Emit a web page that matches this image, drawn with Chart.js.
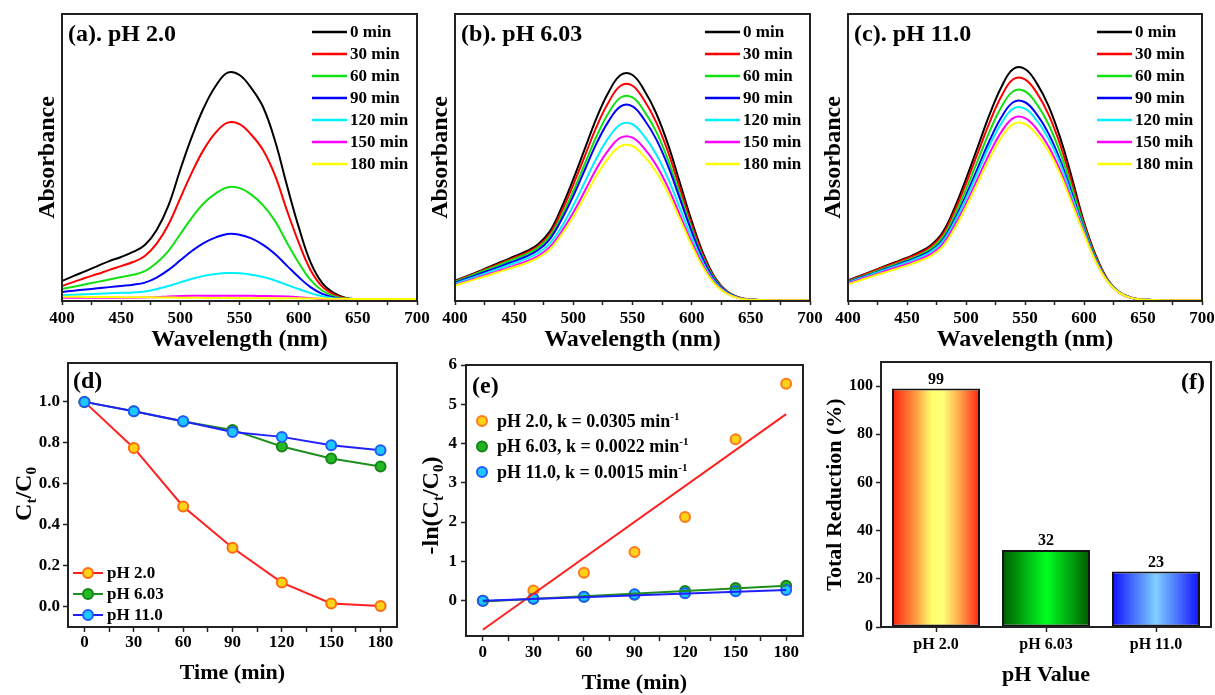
<!DOCTYPE html>
<html><head><meta charset="utf-8">
<script src="https://cdn.jsdelivr.net/npm/chart.js@4.4.0/dist/chart.umd.min.js"></script>
<style>
html,body{margin:0;padding:0;background:#fff;overflow:hidden}
#wrap{position:relative;width:1215px;height:695px;background:#fff;overflow:hidden}
canvas{position:absolute}
</style></head><body><div id="wrap">
<canvas id="ca" width="440" height="356" style="left:0;top:0"></canvas>
<canvas id="cb" width="410" height="356" style="left:420px;top:0"></canvas>
<canvas id="cc" width="400" height="356" style="left:815px;top:0"></canvas>
<canvas id="cd" width="420" height="345" style="left:0;top:350px"></canvas>
<canvas id="ce" width="400" height="345" style="left:415px;top:350px"></canvas>
<canvas id="cf" width="400" height="345" style="left:815px;top:350px"></canvas>
</div>
<script>
// ---------------- DATA ----------------
const wavelengths = [400,410,420,430,440,450,460,470,480,490,500,510,520,530,540,550,560,570,580,590,600,610,620,630,640,650,670,700];
const timeLabelsA = ['0 min','30 min','60 min','90 min','120 min','150 min','180 min'];
const timeLabelsB = ['0 min','30 min','60 min','90 min','120 min','150 min','180 min'];
const timeLabelsC = ['0 min','30 min','60 min','90 min','120 min','150 mih','180 min'];

// (a) pH 2.0
const absA0   = [0.084,0.105,0.125,0.146,0.167,0.184,0.205,0.234,0.297,0.40,0.55,0.69,0.81,0.90,0.955,0.945,0.89,0.81,0.67,0.485,0.31,0.163,0.075,0.033,0.013,0.007,0.005,0.004];
const absA30  = [0.063,0.08,0.097,0.113,0.13,0.146,0.163,0.188,0.24,0.32,0.43,0.54,0.635,0.705,0.746,0.74,0.695,0.63,0.525,0.38,0.245,0.13,0.06,0.027,0.011,0.006,0.005,0.004];
const absA60  = [0.05,0.06,0.07,0.08,0.09,0.10,0.11,0.125,0.16,0.21,0.28,0.35,0.41,0.45,0.476,0.472,0.445,0.40,0.335,0.245,0.16,0.088,0.043,0.02,0.009,0.006,0.005,0.004];
const absA90  = [0.038,0.043,0.048,0.053,0.058,0.063,0.068,0.077,0.098,0.13,0.17,0.21,0.243,0.266,0.28,0.277,0.262,0.235,0.197,0.148,0.10,0.058,0.03,0.015,0.008,0.006,0.005,0.004];
const absA120 = [0.024,0.026,0.028,0.03,0.032,0.034,0.036,0.04,0.05,0.063,0.078,0.093,0.105,0.113,0.117,0.116,0.11,0.10,0.086,0.068,0.05,0.033,0.02,0.011,0.007,0.005,0.004,0.004];
const absA150 = [0.014,0.014,0.014,0.014,0.014,0.014,0.014,0.015,0.016,0.019,0.021,0.022,0.022,0.022,0.022,0.022,0.022,0.021,0.02,0.019,0.016,0.011,0.008,0.006,0.005,0.005,0.004,0.004];
const absA180 = [0.018,0.018,0.017,0.017,0.017,0.016,0.016,0.016,0.015,0.015,0.014,0.014,0.013,0.013,0.013,0.012,0.012,0.012,0.011,0.011,0.011,0.01,0.01,0.009,0.009,0.008,0.008,0.008];

// (b) pH 6.03
const absB0   = [0.084,0.104,0.124,0.145,0.165,0.186,0.207,0.236,0.29,0.39,0.51,0.64,0.77,0.875,0.945,0.945,0.88,0.785,0.655,0.495,0.335,0.195,0.095,0.04,0.015,0.006,0.003,0.003];
const absB30  = [0.082,0.102,0.121,0.141,0.161,0.181,0.201,0.229,0.28,0.373,0.487,0.61,0.733,0.833,0.90,0.90,0.838,0.748,0.624,0.472,0.32,0.187,0.091,0.038,0.014,0.006,0.003,0.003];
const absB60  = [0.080,0.099,0.118,0.137,0.156,0.176,0.195,0.222,0.27,0.355,0.46,0.577,0.693,0.788,0.851,0.851,0.793,0.708,0.59,0.447,0.303,0.177,0.087,0.036,0.014,0.006,0.003,0.003];
const absB90  = [0.076,0.094,0.112,0.13,0.148,0.167,0.186,0.212,0.258,0.34,0.44,0.552,0.663,0.753,0.814,0.814,0.758,0.677,0.565,0.428,0.29,0.17,0.083,0.035,0.013,0.005,0.003,0.003];
const absB120 = [0.072,0.089,0.106,0.123,0.14,0.158,0.176,0.2,0.24,0.31,0.40,0.50,0.601,0.684,0.739,0.739,0.688,0.614,0.513,0.389,0.264,0.155,0.077,0.033,0.012,0.005,0.003,0.003];
const absB150 = [0.067,0.083,0.099,0.115,0.131,0.148,0.165,0.188,0.225,0.29,0.37,0.463,0.557,0.633,0.683,0.683,0.637,0.569,0.475,0.36,0.245,0.144,0.071,0.031,0.012,0.005,0.003,0.003];
const absB180 = [0.064,0.08,0.095,0.11,0.126,0.142,0.158,0.18,0.215,0.277,0.352,0.44,0.528,0.60,0.648,0.648,0.604,0.54,0.451,0.343,0.233,0.137,0.068,0.03,0.011,0.005,0.003,0.003];

// (c) pH 11.0
const absC0   = [0.086,0.105,0.124,0.143,0.162,0.181,0.203,0.232,0.285,0.385,0.51,0.645,0.78,0.895,0.97,0.97,0.91,0.815,0.68,0.51,0.33,0.19,0.09,0.037,0.014,0.006,0.003,0.003];
const absC30  = [0.085,0.103,0.122,0.141,0.159,0.178,0.199,0.227,0.277,0.372,0.49,0.619,0.747,0.856,0.927,0.927,0.87,0.779,0.651,0.49,0.322,0.185,0.088,0.036,0.014,0.006,0.003,0.003];
const absC60  = [0.081,0.099,0.117,0.135,0.153,0.171,0.191,0.218,0.265,0.355,0.466,0.588,0.709,0.811,0.877,0.877,0.823,0.738,0.618,0.467,0.312,0.179,0.086,0.036,0.014,0.006,0.003,0.003];
const absC90  = [0.078,0.096,0.113,0.131,0.148,0.166,0.185,0.21,0.254,0.338,0.442,0.557,0.671,0.768,0.831,0.831,0.78,0.70,0.587,0.445,0.301,0.173,0.084,0.035,0.013,0.006,0.003,0.003];
const absC120 = [0.076,0.094,0.111,0.128,0.145,0.162,0.181,0.205,0.247,0.328,0.428,0.539,0.65,0.743,0.804,0.804,0.755,0.678,0.57,0.433,0.295,0.17,0.083,0.035,0.013,0.006,0.003,0.003];
const absC150 = [0.073,0.09,0.106,0.123,0.139,0.155,0.173,0.196,0.236,0.313,0.407,0.513,0.618,0.707,0.765,0.765,0.719,0.646,0.544,0.415,0.286,0.166,0.082,0.034,0.013,0.006,0.003,0.003];
const absC180 = [0.070,0.086,0.102,0.117,0.133,0.148,0.166,0.188,0.226,0.30,0.393,0.495,0.597,0.684,0.74,0.74,0.696,0.626,0.528,0.404,0.28,0.163,0.081,0.034,0.013,0.006,0.003,0.003];

// (d) Ct/C0
const times   = [0,30,60,90,120,150,180];
const ctPH2   = [1.0,0.775,0.489,0.287,0.117,0.015,0.003];
const ctPH6   = [1.0,0.954,0.904,0.863,0.782,0.723,0.684];
const ctPH11  = [1.0,0.954,0.905,0.853,0.829,0.788,0.764];
const phLegend = ['pH 2.0','pH 6.03','pH 11.0'];

// (e) -ln(Ct/C0)
const lnPH2   = [0,0.26,0.71,1.24,2.13,4.11,5.52];
const lnPH6   = [0,0.05,0.10,0.15,0.245,0.32,0.38];
const lnPH11  = [0,0.047,0.10,0.16,0.19,0.24,0.27];
const fitTimes = [0,180];
const fitPH2  = [-0.74,4.75];
const fitPH6  = [-0.02,0.38];
const fitPH11 = [0.0,0.27];
const kLabels = ['pH 2.0, k = 0.0305 min','pH 6.03, k = 0.0022 min','pH 11.0, k = 0.0015 min'];

// (f) total reduction
const phCategories   = ['pH 2.0','pH 6.03','pH 11.0'];
const totalReduction = [99,32,23];

// ticks
const specTicks = [400,425,450,475,500,525,550,575,600,625,650,675,700];
const timeTicks = [0,15,30,45,60,75,90,105,120,135,150,165,180];
const ctTicks   = [0,0.2,0.4,0.6,0.8,1.0];
const lnTicks   = [0,1,2,3,4,5,6];
const redTicks  = [0,20,40,60,80,100];

// ---------------- HELPERS ----------------
const FONT = "'Liberation Serif','Times New Roman',serif";
const fnt = (size) => ({family:FONT, size:size, weight:'bold', lineHeight:1});

function drawRich(ctx, segs, x, y, size, rot, align){
  ctx.save();
  ctx.translate(x, y);
  if (rot) ctx.rotate(-Math.PI/2);
  const small = Math.round(size*0.62);
  const fo = s => 'bold ' + ((s.sub||s.sup) ? small : size) + 'px ' + FONT;
  let w = 0;
  segs.forEach(s => { ctx.font = fo(s); w += ctx.measureText(s.t).width; });
  let cx = align === 'left' ? 0 : -w/2;
  ctx.fillStyle = '#000'; ctx.textBaseline = 'alphabetic'; ctx.textAlign = 'left';
  const base = size*0.33;
  segs.forEach(s => {
    ctx.font = fo(s);
    const dy = s.sub ? size*0.2 : (s.sup ? -size*0.4 : 0);
    ctx.fillText(s.t, cx, base + dy);
    cx += ctx.measureText(s.t).width;
  });
  ctx.restore();
}

const framePlugin = {
  id:'frame',
  afterDraw(chart){
    const {ctx, chartArea:a} = chart;
    ctx.save(); ctx.strokeStyle = '#222'; ctx.lineWidth = 2;
    ctx.strokeRect(a.left, a.top, a.right - a.left, a.bottom - a.top);
    ctx.restore();
  }
};

function xLinear(o){
  const ticks = {autoSkip:false, maxRotation:0, minRotation:0, font:fnt(o.fs||17), color:'#000', padding:o.pad};
  if (o.cb) ticks.callback = o.cb;
  return {
    type:'linear', min:o.min, max:o.max,
    afterBuildTicks: s => { s.ticks = o.ticks.map(v => ({value:v})); },
    afterFit: s => { s.height = o.h; s.paddingLeft = 0; s.paddingRight = 0; },
    ticks: ticks,
    grid:{display:true, drawOnChartArea:false, drawTicks:true, tickLength:o.tl||5, tickColor:'#222', tickWidth:1.5},
    border:{display:false},
    title:{display:true, text:o.title, font:fnt(o.tfs), color:'#000', padding:{top:0, bottom:o.tpb}}
  };
}

function yLinear(o){
  const ax = {
    type:'linear', min:o.min, max:o.max,
    afterFit: s => { s.width = o.w; s.paddingTop = 0; s.paddingBottom = 0; },
    border:{display:false}
  };
  if (o.ticks) {
    ax.afterBuildTicks = s => { s.ticks = o.ticks.map(v => ({value:v})); };
    ax.ticks = {font:fnt(o.fs||17), color:'#000', padding:o.pad, autoSkip:false};
    if (o.cb) ax.ticks.callback = o.cb;
    ax.grid = {display:true, drawOnChartArea:false, drawTicks:true, tickLength:5, tickColor:'#222', tickWidth:1.5};
  } else {
    ax.ticks = {display:false};
    ax.grid = {display:false, drawTicks:false};
  }
  if (o.title) ax.title = {display:true, text:o.title, font:fnt(o.tfs), color:'#000', padding:{top:o.tpt, bottom:0}};
  return ax;
}

const baseOpts = {responsive:false, animation:false, events:[], devicePixelRatio:1};

// ---------------- SPECTRA (a)(b)(c) ----------------
const specColors = ['#000000','#ff0000','#11e011','#0000ff','#00f0ff','#ff00ff','#ffff00'];

function spectra(id, series, labels, tag, L){
  const deco = {
    id:'deco'+id,
    afterDraw(chart){
      const ctx = chart.ctx, a = chart.chartArea;
      ctx.save();
      ctx.font = 'bold 17px ' + FONT; ctx.textBaseline = 'middle'; ctx.textAlign = 'left';
      chart.data.datasets.forEach((ds, i) => {
        const y = a.top + 18 + 22*i;
        ctx.strokeStyle = ds.borderColor; ctx.lineWidth = 2.5;
        ctx.beginPath(); ctx.moveTo(a.right - 105, y); ctx.lineTo(a.right - 70, y); ctx.stroke();
        ctx.fillStyle = '#000'; ctx.fillText(ds.label, a.right - 67, y + 1);
      });
      ctx.font = 'bold 24px ' + FONT;
      ctx.fillText(tag, a.left + 6, a.top + 21);
      ctx.restore();
    }
  };
  return new Chart(document.getElementById(id), {
    type:'line',
    data:{datasets: series.map((s, i) => ({
      label: labels[i],
      data: wavelengths.map((w, j) => ({x:w, y:s[j]})),
      borderColor: specColors[i], backgroundColor: specColors[i],
      borderWidth: 2, pointRadius: 0, tension: 0.4, order: 6 - i
    }))},
    options: Object.assign({}, baseOpts, {
      layout:{padding:{left:0, top:14, right:L.pr, bottom:0}},
      plugins:{legend:{display:false}, tooltip:{enabled:false}},
      scales:{
        x: xLinear({min:400, max:700, ticks:specTicks, cb: v => (v % 50 === 0 ? String(v) : ''), h:55, pad:5, tl:4, title:'Wavelength (nm)', tfs:24, tpb:4}),
        y: yLinear({min:0, max:1.2, w:L.yw, title:'Absorbance', tfs:24, tpt:L.tpt})
      }
    }),
    plugins:[framePlugin, deco]
  });
}

spectra('ca', [absA0,absA30,absA60,absA90,absA120,absA150,absA180], timeLabelsA, '(a). pH 2.0', {pr:23, yw:62, tpt:36});
spectra('cb', [absB0,absB30,absB60,absB90,absB120,absB150,absB180], timeLabelsB, '(b). pH 6.03', {pr:20, yw:35, tpt:9});
spectra('cc', [absC0,absC30,absC60,absC90,absC120,absC150,absC180], timeLabelsC, '(c). pH 11.0', {pr:13, yw:33, tpt:6.5});

// ---------------- (d) ----------------
const dStyles = [
  {line:'#ff2020', fill:'#ffd21a', edge:'#ff6a10'},
  {line:'#1e8f1e', fill:'#22bb22', edge:'#178417'},
  {line:'#2020ff', fill:'#1ec8ff', edge:'#1f5cff'}
];
const dSeries = [ctPH2, ctPH6, ctPH11];
new Chart(document.getElementById('cd'), {
  type:'line',
  data:{datasets: dSeries.map((s, i) => ({
    label: phLegend[i],
    data: times.map((t, j) => ({x:t, y:s[j]})),
    borderColor: dStyles[i].line, backgroundColor: dStyles[i].fill,
    pointBackgroundColor: dStyles[i].fill, pointBorderColor: dStyles[i].edge,
    pointRadius: 5, pointBorderWidth: 2, borderWidth: 2, order: 2 - i
  }))},
  options: Object.assign({}, baseOpts, {
    layout:{padding:{left:0, top:13, right:23, bottom:0}},
    plugins:{legend:{display:false}, tooltip:{enabled:false}},
    scales:{
      x: xLinear({min:-10, max:190, ticks:timeTicks, cb: v => (v % 30 === 0 ? String(v) : ''), h:68, pad:2.5, title:'Time (min)', tfs:22, tpb:11}),
      y: yLinear({min:-0.1, max:1.19, w:68, ticks:ctTicks, cb: v => Number(v).toFixed(1), pad:3})
    }
  }),
  plugins:[framePlugin, {
    id:'decoD',
    afterDraw(chart){
      const ctx = chart.ctx, a = chart.chartArea;
      ctx.save();
      chart.data.datasets.forEach((ds, i) => {
        const y = a.top + 210 + 21*i;
        ctx.strokeStyle = ds.borderColor; ctx.lineWidth = 2;
        ctx.beginPath(); ctx.moveTo(a.left + 5, y); ctx.lineTo(a.left + 35, y); ctx.stroke();
        ctx.beginPath(); ctx.arc(a.left + 20, y, 5, 0, Math.PI*2);
        ctx.fillStyle = ds.pointBackgroundColor; ctx.fill();
        ctx.lineWidth = 2; ctx.strokeStyle = ds.pointBorderColor; ctx.stroke();
        ctx.fillStyle = '#000'; ctx.font = 'bold 17px ' + FONT; ctx.textBaseline = 'middle'; ctx.textAlign = 'left';
        ctx.fillText(ds.label, a.left + 39, y + 1);
      });
      ctx.font = 'bold 24px ' + FONT; ctx.textBaseline = 'middle'; ctx.fillStyle = '#000';
      ctx.fillText('(d)', a.left + 5, a.top + 19);
      ctx.restore();
      drawRich(ctx, [{t:'C'},{t:'t',sub:true},{t:'/C'},{t:'0',sub:true}], a.left - 45, (a.top + a.bottom)/2 - 1, 24, true, 'center');
    }
  }]
});

// ---------------- (e) ----------------
const eSeries = [lnPH2, lnPH6, lnPH11];
const fitSeries = [fitPH2, fitPH6, fitPH11];
const eStyles = [
  {line:'#ff2020', fill:'#ffd21a', edge:'#ff7a1a'},
  {line:'#1e8f1e', fill:'#22b522', edge:'#178417'},
  {line:'#2020ff', fill:'#1ec8ff', edge:'#1f5cff'}
];
const eDatasets = [];
eSeries.forEach((s, i) => eDatasets.push({
  label: kLabels[i], showLine:false,
  data: times.map((t, j) => ({x:t, y:s[j]})),
  borderColor: eStyles[i].edge, backgroundColor: eStyles[i].fill,
  pointBackgroundColor: eStyles[i].fill, pointBorderColor: eStyles[i].edge,
  pointRadius: 5, pointBorderWidth: 2, order: 5 - i
}));
fitSeries.forEach((s, i) => eDatasets.push({
  label: 'fit ' + phLegend[i], showLine:true,
  data: fitTimes.map((t, j) => ({x:t, y:s[j]})),
  borderColor: eStyles[i].line, backgroundColor: eStyles[i].line,
  pointRadius: 0, borderWidth: 2, order: 2 - i
}));
new Chart(document.getElementById('ce'), {
  type:'scatter',
  data:{datasets: eDatasets},
  options: Object.assign({}, baseOpts, {
    layout:{padding:{left:0, top:15, right:12, bottom:0}},
    plugins:{legend:{display:false}, tooltip:{enabled:false}},
    scales:{
      x: xLinear({min:-10, max:190, ticks:timeTicks, cb: v => (v % 30 === 0 ? String(v) : ''), h:59, pad:3.5, title:'Time (min)', tfs:22, tpb:1}),
      y: yLinear({min:-0.9, max:6, w:51, ticks:lnTicks, cb: v => String(v), pad:4})
    }
  }),
  plugins:[framePlugin, {
    id:'decoE',
    afterDraw(chart){
      const ctx = chart.ctx, a = chart.chartArea;
      for (let i = 0; i < 3; i++) {
        const ds = chart.data.datasets[i];
        const y = a.top + 56 + 25.5*i;
        ctx.save();
        ctx.beginPath(); ctx.arc(a.left + 16, y, 5, 0, Math.PI*2);
        ctx.fillStyle = ds.pointBackgroundColor; ctx.fill();
        ctx.lineWidth = 2; ctx.strokeStyle = ds.pointBorderColor; ctx.stroke();
        ctx.restore();
        drawRich(ctx, [{t:ds.label},{t:'-1',sup:true}], a.left + 31, y, 18, false, 'left');
      }
      ctx.save();
      ctx.font = 'bold 24px ' + FONT; ctx.textBaseline = 'middle'; ctx.fillStyle = '#000'; ctx.textAlign = 'left';
      ctx.fillText('(e)', a.left + 6, a.top + 22);
      ctx.restore();
      drawRich(ctx, [{t:'-ln(C'},{t:'t',sub:true},{t:'/C'},{t:'0',sub:true},{t:')'}], a.left - 36, (a.top + a.bottom)/2 + 5, 24, true, 'center');
    }
  }]
});

// ---------------- (f) ----------------
const barStops = [
  [[0,'#ff2010'],[0.28,'#ffa040'],[0.45,'#ffff70'],[0.58,'#ffff78'],[0.75,'#ffb050'],[1,'#ff2010']],
  [[0,'#005a00'],[0.5,'#00ff22'],[1,'#005a00']],
  [[0,'#1010ff'],[0.5,'#80d0ff'],[1,'#1010ff']]
];
function barFill(c){
  const chart = c.chart;
  const xs = chart.scales.x;
  if (!chart.chartArea || !xs || c.dataIndex === undefined) return '#ff8040';
  const cx = xs.getPixelForValue(c.dataIndex);
  const half = xs.width / phCategories.length * 0.8 / 2;
  const g = chart.ctx.createLinearGradient(cx - half, 0, cx + half, 0);
  barStops[c.dataIndex].forEach(s => g.addColorStop(s[0], s[1]));
  return g;
}
new Chart(document.getElementById('cf'), {
  type:'bar',
  data:{labels: phCategories, datasets:[{
    label:'Total Reduction', data: totalReduction,
    backgroundColor: barFill, borderColor:'#151515', borderWidth:2, borderSkipped:false,
    barPercentage:0.8, categoryPercentage:1.0
  }]},
  options: Object.assign({}, baseOpts, {
    layout:{padding:{left:0, top:12, right:4, bottom:0}},
    plugins:{legend:{display:false}, tooltip:{enabled:false}},
    scales:{
      x:{
        type:'category',
        afterFit: s => { s.height = 68; s.paddingLeft = 0; s.paddingRight = 0; },
        ticks:{font:fnt(16), color:'#000', padding:5, maxRotation:0, autoSkip:false},
        grid:{display:true, offset:false, drawOnChartArea:false, drawTicks:true, tickLength:5, tickColor:'#222', tickWidth:1.5},
        border:{display:false},
        title:{display:true, text:'pH Value', font:fnt(22), color:'#000', padding:{top:0, bottom:9}}
      },
      y: yLinear({min:0, max:110, w:66, ticks:redTicks, cb: v => String(v), pad:3, fs:16, title:'Total Reduction (%)', tfs:22, tpt:9})
    }
  }),
  plugins:[framePlugin, {
    id:'decoF',
    afterDraw(chart){
      const ctx = chart.ctx, a = chart.chartArea;
      const meta = chart.getDatasetMeta(0);
      ctx.save();
      ctx.font = 'bold 16px ' + FONT; ctx.fillStyle = '#000'; ctx.textAlign = 'center'; ctx.textBaseline = 'middle';
      meta.data.forEach((bar, i) => ctx.fillText(String(totalReduction[i]), bar.x, bar.y - 9));
      ctx.font = 'bold 24px ' + FONT; ctx.textAlign = 'right';
      ctx.fillText('(f)', a.right - 6, a.top + 21);
      ctx.restore();
    }
  }]
});
</script>
</body></html>
